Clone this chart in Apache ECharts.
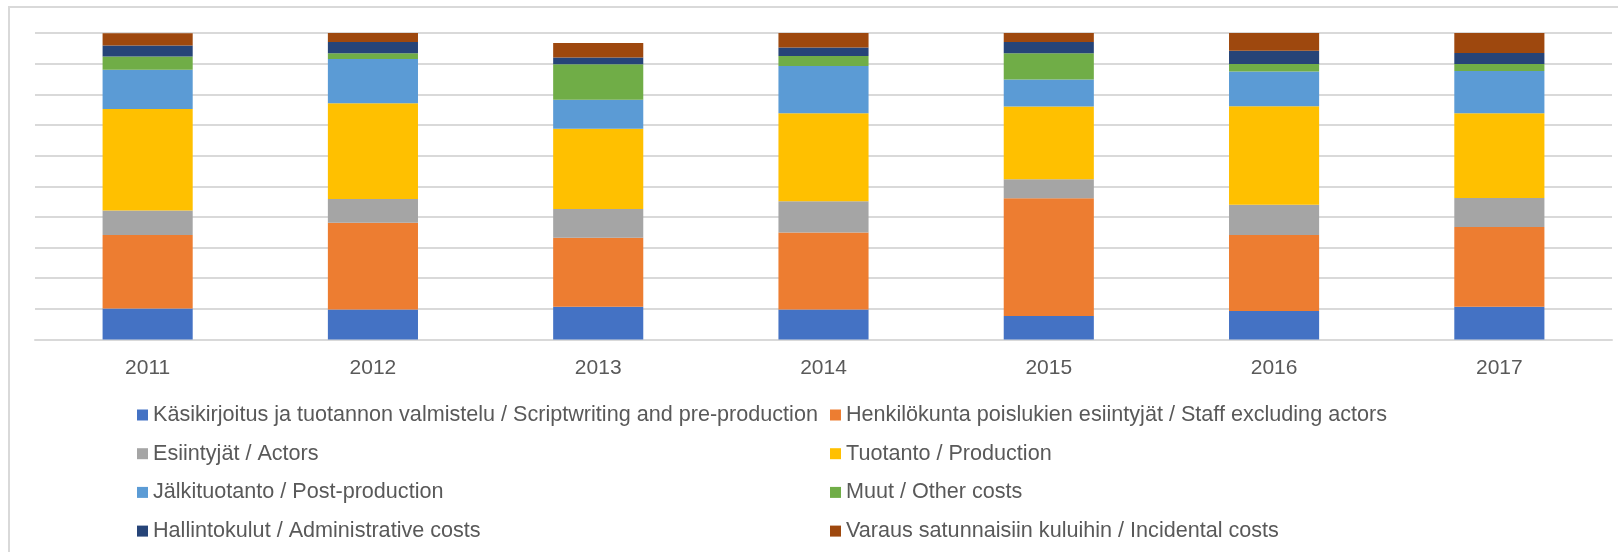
<!DOCTYPE html>
<html>
<head>
<meta charset="utf-8">
<script src="https://cdn.jsdelivr.net/npm/echarts@6/dist/echarts.min.js"></script>
<style>
  html, body { margin: 0; padding: 0; background: #fff; }
  #costChart { width: 1618px; height: 552px; }
</style>
</head>
<body>
<div id="costChart"></div>
<script>
  // vuodet / years
  const years = ['2011', '2012', '2013', '2014', '2015', '2016', '2017'];

  // osuudet % / shares of budget
  const scriptwriting = [10.1, 9.8, 10.7, 9.8, 7.7, 9.3, 10.7];
  const staff         = [24.0, 28.3, 22.5, 25.1, 38.4, 24.8, 26.0];
  const actors        = [8.0, 7.7, 9.4, 10.2, 6.2, 9.9, 9.5];
  const production    = [33.1, 31.3, 26.2, 28.7, 23.7, 32.1, 27.6];
  const postProd      = [12.8, 14.4, 9.4, 15.4, 8.8, 11.3, 13.8];
  const otherCosts    = [4.3, 1.9, 11.6, 3.3, 8.6, 2.5, 2.3];
  const adminCosts    = [3.6, 3.7, 2.2, 2.8, 3.7, 4.3, 3.6];
  const incidental    = [4.0, 3.3, 4.7, 4.8, 2.9, 5.9, 6.6];

  const seriesNames = [
    'Käsikirjoitus ja tuotannon valmistelu / Scriptwriting and pre-production',
    'Henkilökunta poislukien esiintyjät / Staff excluding actors',
    'Esiintyjät / Actors',
    'Tuotanto / Production',
    'Jälkituotanto / Post-production',
    'Muut / Other costs',
    'Hallintokulut / Administrative costs',
    'Varaus satunnaisiin kuluihin / Incidental costs'
  ];
  const seriesData = [scriptwriting, staff, actors, production, postProd, otherCosts, adminCosts, incidental];
  const colors = ['#4472C4', '#ED7D31', '#A5A5A5', '#FFC000', '#5B9BD5', '#70AD47', '#264478', '#9E480E'];

  const font = '"Liberation Sans", Arial, sans-serif';

  let costChart = echarts.init(document.getElementById('costChart'));

  let series = seriesNames.map(function (name, i) {
    return {
      name: name,
      type: 'bar',
      stack: 'total',
      barWidth: '40%',
      data: seriesData[i],
      itemStyle: { color: colors[i] }
    };
  });

  let legendBase = {
    orient: 'vertical',
    top: 403,
    padding: 0,
    itemWidth: 11,
    itemHeight: 11,
    itemGap: 14.7,
    icon: 'rect',
    selectedMode: false,
    textStyle: {
      color: '#595959',
      fontFamily: font,
      fontSize: 21.6,
      lineHeight: 24
    }
  };

  let option = {
    animation: false,
    color: colors,
    graphic: [{
      type: 'rect',
      shape: { x: 9, y: 7, width: 1700, height: 700 },
      style: { fill: 'none', stroke: '#d9d9d9', lineWidth: 2 },
      silent: true
    }],
    grid: {
      left: 35,
      right: 6,
      top: 33,
      bottom: 212.5
    },
    legend: [
      Object.assign({}, legendBase, {
        left: 137,
        data: [seriesNames[0], seriesNames[2], seriesNames[4], seriesNames[6]]
      }),
      Object.assign({}, legendBase, {
        left: 830,
        data: [seriesNames[1], seriesNames[3], seriesNames[5], seriesNames[7]]
      })
    ],
    xAxis: {
      type: 'category',
      data: years,
      axisLine: { show: true, lineStyle: { color: '#d9d9d9', width: 2 } },
      axisTick: { show: false },
      axisLabel: {
        color: '#595959',
        fontFamily: font,
        fontSize: 21,
        margin: 18
      }
    },
    yAxis: {
      type: 'value',
      min: 0,
      max: 100,
      interval: 10,
      axisLine: { show: false },
      axisTick: { show: false },
      axisLabel: { show: false },
      splitLine: { lineStyle: { color: '#d9d9d9', width: 2 } }
    },
    series: series
  };

  costChart.setOption(option);
</script>
</body>
</html>
